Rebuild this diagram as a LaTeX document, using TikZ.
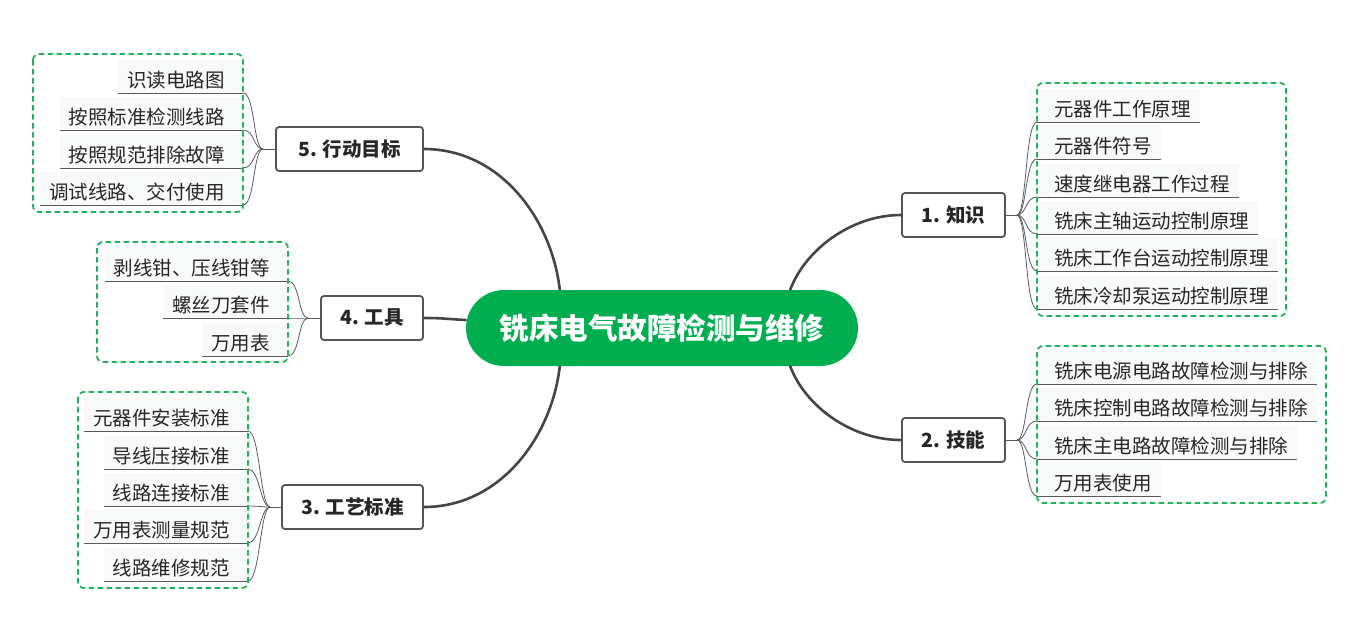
\documentclass[tikz,border=0pt]{standalone}
\usepackage{fontspec}
\setmainfont{Noto Sans CJK SC}
\usetikzlibrary{calc}
\definecolor{cgreen}{HTML}{00AE50}
\definecolor{dgreen}{HTML}{21B35B}
\definecolor{boxline}{HTML}{555555}
\definecolor{mainline}{HTML}{454545}
\definecolor{leafline}{HTML}{5A5A5A}
\definecolor{leafbg}{HTML}{F8FAF9}
\definecolor{txt}{HTML}{262626}
\newcommand{\leaffont}{\fontsize{19.5}{22}\selectfont}
\begin{document}
\begin{tikzpicture}[x=1pt,y=-1pt,
  centernode/.style={fill=cgreen, rounded corners=38pt, minimum width=392pt, minimum height=76pt, text=white, font=\fontsize{29.5}{32}\selectfont\bfseries, inner sep=0pt},
  branch/.style={draw=boxline, line width=1.8pt, rounded corners=3pt, fill=white, minimum height=44pt, font=\fontsize{19.5}{22}\selectfont\bfseries, text=txt, inner sep=0pt},
  leafbase/.style={inner xsep=0pt, inner ysep=0pt, text height=27.5pt, text depth=5.5pt, fill=leafbg, font=\leaffont, text=txt},
  leafR/.style={leafbase, anchor=south west, execute at begin node={\hspace*{17pt}}, execute at end node={\hspace*{9pt}}},
  leafL/.style={leafbase, anchor=south east, execute at begin node={\hspace*{9pt}}, execute at end node={\hspace*{18pt}}},
  uline/.style={draw=leafline, line width=0.9pt},
  fan/.style={draw=leafline, line width=0.8pt},
  mainc/.style={draw=mainline, line width=2.6pt, line cap=round},
  dbox/.style={draw=dgreen, line width=1.8pt, dash pattern=on 5.5pt off 3.5pt, rounded corners=6pt}
]
\useasboundingbox (0,0) rectangle (1365,625);

% central topic and branches
\node[centernode] (c) at (662,328) {铣床电气故障检测与维修};
\node[branch, minimum width=103pt] (b1) at (953.5,215) {1. 知识};
\node[branch, minimum width=103pt] (b2) at (953.5,440) {2. 技能};
\node[branch, minimum width=141pt] (b3) at (352.5,507) {3. 工艺标准};
\node[branch, minimum width=102pt] (b4) at (372,318) {4. 工具};
\node[branch, minimum width=147pt] (b5) at (349.5,149) {5. 行动目标};

% main connectors
\draw[mainc] ($(c.north west)+(94,0)$) .. controls +(-8,-70) and +(77,0) .. (b5.east);
\draw[mainc] ($(c.south west)+(94,0)$) .. controls +(-8,70) and +(77,0) .. (b3.east);
\draw[mainc] ($(c.west)+(0,-8)$) .. controls +(-20,-1) and +(20,0) .. (b4.east);
\draw[mainc] ($(c.north east)+(-68,0)$) .. controls +(15,-40) and +(-50,0) .. (b1.west);
\draw[mainc] ($(c.south east)+(-68,0)$) .. controls +(15,40) and +(-50,0) .. (b2.west);

% leaves of 1
\node[leafR] (k1) at (1037,122) {元器件工作原理};
\node[leafR] (k2) at (1037,159) {元器件符号};
\node[leafR] (k3) at (1037,197) {速度继电器工作过程};
\node[leafR] (k4) at (1037,234) {铣床主轴运动控制原理};
\node[leafR] (k5) at (1037,271) {铣床工作台运动控制原理};
\node[leafR] (k6) at (1037,309) {铣床冷却泵运动控制原理};
% leaves of 2
\node[leafR] (s1) at (1037,384) {铣床电源电路故障检测与排除};
\node[leafR] (s2) at (1037,421) {铣床控制电路故障检测与排除};
\node[leafR] (s3) at (1037,459) {铣床主电路故障检测与排除};
\node[leafR] (s4) at (1037,496) {万用表使用};
% leaves of 5
\node[leafL] (g1) at (243,93) {识读电路图};
\node[leafL] (g2) at (243,130) {按照标准检测线路};
\node[leafL] (g3) at (243,168) {按照规范排除故障};
\node[leafL] (g4) at (243,205) {调试线路、交付使用};
% leaves of 4
\node[leafL] (t1) at (288,281) {剥线钳、压线钳等};
\node[leafL] (t2) at (288,318) {螺丝刀套件};
\node[leafL] (t3) at (288,356) {万用表};
% leaves of 3
\node[leafL] (p1) at (248,431) {元器件安装标准};
\node[leafL] (p2) at (248,469) {导线压接标准};
\node[leafL] (p3) at (248,506) {线路连接标准};
\node[leafL] (p4) at (248,543) {万用表测量规范};
\node[leafL] (p5) at (248,581) {线路维修规范};

% underlines
\foreach \n in {k1,k2,k3,k4,k5,k6,s1,s2,s3,s4,g1,g2,g3,g4,t1,t2,t3,p1,p2,p3,p4,p5}
  \draw[uline] (\n.south west) -- (\n.south east);

% junctions
\coordinate (j1) at ($(b1.east)+(11,0)$);
\coordinate (j2) at ($(b2.east)+(11,0)$);
\coordinate (j3) at ($(b3.west)+(-11,0)$);
\coordinate (j4) at ($(b4.west)+(-12,0)$);
\coordinate (j5) at ($(b5.west)+(-12,0)$);
\draw[fan] (b1.east) -- (j1);
\draw[fan] (b2.east) -- (j2);
\draw[fan] (b3.west) -- (j3);
\draw[fan] (b4.west) -- (j4);
\draw[fan] (b5.west) -- (j5);

\foreach \n in {k1,k2,k3,k4,k5,k6}
  \draw[fan] (j1) .. controls +(10,0) and +(-12,0) .. (\n.south west);
\foreach \n in {s1,s2,s3,s4}
  \draw[fan] (j2) .. controls +(10,0) and +(-12,0) .. (\n.south west);
\foreach \n in {p1,p2,p3,p4,p5}
  \draw[fan] (j3) .. controls +(-10,0) and +(12,0) .. (\n.south east);
\foreach \n in {t1,t2,t3}
  \draw[fan] (j4) .. controls +(-10,0) and +(12,0) .. (\n.south east);
\foreach \n in {g1,g2,g3,g4}
  \draw[fan] (j5) .. controls +(-10,0) and +(12,0) .. (\n.south east);

% dashed group frames
\draw[dbox] (1037,83) rectangle (1286,316);
\draw[dbox] (1037,346) rectangle (1326,503);
\draw[dbox] (78,392) rectangle (248,588);
\draw[dbox] (97,242) rectangle (288,362);
\draw[dbox] (33,54) rectangle (243,212);
\end{tikzpicture}
\end{document}
